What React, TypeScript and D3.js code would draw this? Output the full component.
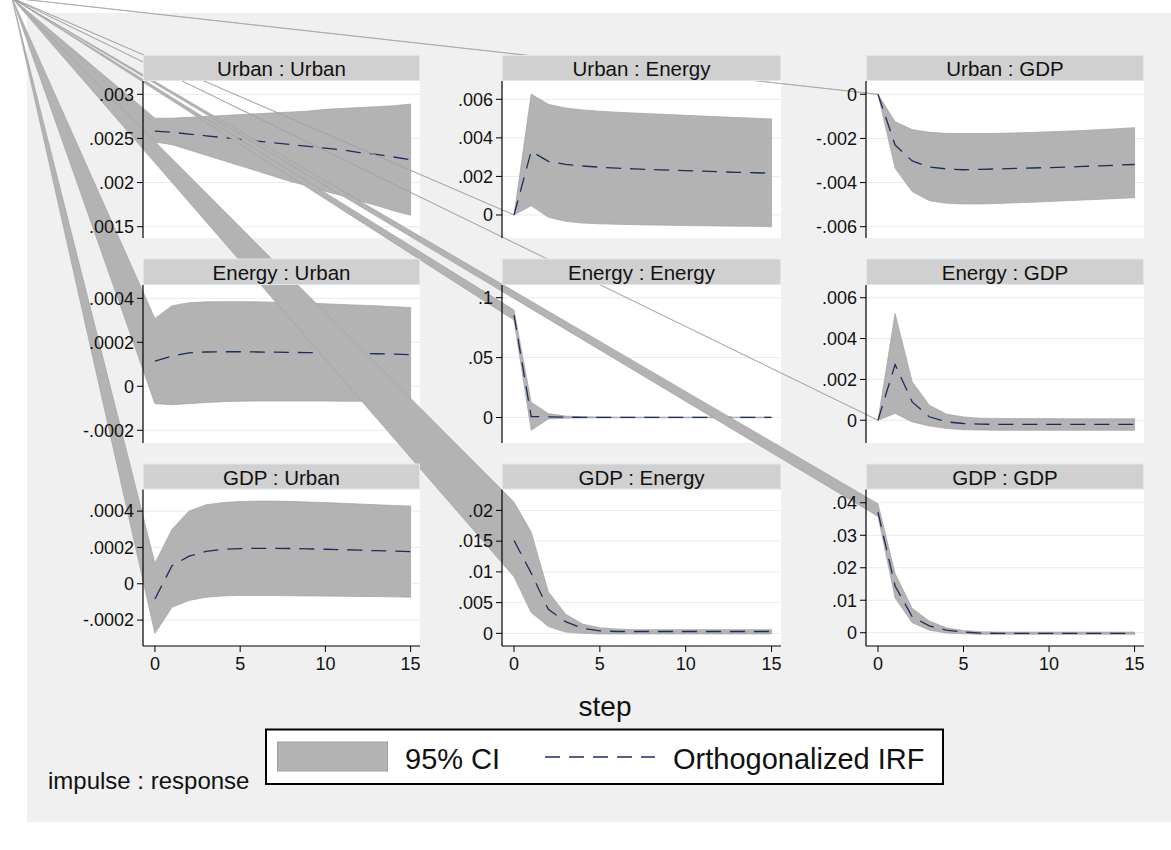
import React from "react";
import * as d3 from "d3";

const steps = [0, 1, 2, 3, 4, 5, 6, 7, 8, 9, 10, 11, 12, 13, 14, 15];
const xTicks = [0, 5, 10, 15];

// Panel titles (impulse : response), row by row
const panelTitles = [
  "Urban : Urban", "Urban : Energy", "Urban : GDP",
  "Energy : Urban", "Energy : Energy", "Energy : GDP",
  "GDP : Urban", "GDP : Energy", "GDP : GDP",
];

// y-axis value ranges per panel
const yDomains: [number, number][] = [
  [0.001372, 0.003151], [-0.001193, 0.006949], [-0.006512, 0.000603],
  [-0.0002579, 0.0004606], [-0.02124, 0.1106], [-0.001114, 0.006623],
  [-0.0003427, 0.000519], [-0.00206, 0.023406], [-0.00408, 0.04408],
];

const yTickValues = [
  [0.0015, 0.002, 0.0025, 0.003], [0, 0.002, 0.004, 0.006], [-0.006, -0.004, -0.002, 0],
  [-0.0002, 0, 0.0002, 0.0004], [0, 0.05, 0.1], [0, 0.002, 0.004, 0.006],
  [-0.0002, 0, 0.0002, 0.0004], [0, 0.005, 0.01, 0.015, 0.02], [0, 0.01, 0.02, 0.03, 0.04],
];
const yTickLabels = [
  [".0015", ".002", ".0025", ".003"], ["0", ".002", ".004", ".006"], ["-.006", "-.004", "-.002", "0"],
  ["-.0002", "0", ".0002", ".0004"], ["0", ".05", ".1"], ["0", ".002", ".004", ".006"],
  ["-.0002", "0", ".0002", ".0004"], ["0", ".005", ".01", ".015", ".02"], ["0", ".01", ".02", ".03", ".04"],
];

// Urban : Urban
const irfUrbanUrban = [.002584, .00257, .00255, .00253, .00251, .00249, .00247, .00245, .00243, .00241, .00239, .00237, .00234, .00232, .00229, .00226];
const hiUrbanUrban = [.00273, .00273, .00274, .00275, .00276, .00277, .00278, .00279, .0028, .00281, .00283, .00284, .00285, .00286, .00287, .00289];
const loUrbanUrban = [.00246, .00243, .00237, .00231, .00225, .00219, .00213, .00207, .00201, .00196, .0019, .00185, .00179, .00174, .00168, .00163];
// Urban : Energy
const irfUrbanEnergy = [0, .0033, .00278, .00262, .00254, .00248, .00243, .00239, .00236, .00233, .0023, .00227, .00224, .00221, .00219, .00217];
const hiUrbanEnergy = [0, .00627, .00574, .00555, .00545, .00538, .00533, .00529, .00525, .00521, .00517, .00513, .00509, .00505, .00502, .00498];
const loUrbanEnergy = [0, .00048, -.00012, -.00033, -.00042, -.00046, -.00048, -.0005, -.00052, -.00053, -.00055, -.00056, -.00057, -.00058, -.00059, -.00061];
// Urban : GDP
const irfUrbanGdp = [0, -.0023, -.00302, -.0033, -.00338, -.00342, -.0034, -.00338, -.00336, -.00334, -.00332, -.0033, -.00327, -.00324, -.00321, -.00318];
const hiUrbanGdp = [0, -.00124, -.0016, -.00172, -.00177, -.00178, -.00178, -.00177, -.00175, -.00173, -.0017, -.00167, -.00164, -.0016, -.00156, -.00151];
const loUrbanGdp = [0, -.00335, -.00441, -.00482, -.00494, -.00497, -.00497, -.00495, -.00492, -.00489, -.00486, -.00482, -.00479, -.00476, -.00472, -.00469];
// Energy : Urban
const irfEnergyUrban = [.000114, .000137, .000152, .000156, .000157, .000157, .000156, .000155, .000154, .000153, .000152, .000151, .00015, .000148, .000146, .000144];
const hiEnergyUrban = [.000308, .000366, .00038, .000384, .000385, .000385, .000384, .000382, .00038, .000378, .000375, .000372, .000369, .000366, .000362, .000358];
const loEnergyUrban = [-.000079, -.000084, -.000079, -.000074, -.00007, -.000068, -.000067, -.000067, -.000067, -.000067, -.000067, -.000068, -.000068, -.000068, -.000069, -.00007];
// Energy : Energy
const irfEnergyEnergy = [.0855, .0008, .0006, .0003, .0002, .0001, .0001, .0001, .0001, .0001, .0001, .0001, .0001, .0001, .0001, .0001];
const hiEnergyEnergy = [.0897, .0128, .0033, .0012, .0007, .0005, .0004, .0004, .0004, .0004, .0004, .0004, .0004, .0004, .0004, .0004];
const loEnergyEnergy = [.0814, -.0106, -.0012, -.0005, -.0003, -.0003, -.0002, -.0002, -.0002, -.0002, -.0002, -.0002, -.0002, -.0002, -.0002, -.0002];
// Energy : GDP
const irfEnergyGdp = [0, .00273, .0009, .00017, -.00008, -.00016, -.00019, -.0002, -.0002, -.0002, -.0002, -.0002, -.0002, -.0002, -.0002, -.0002];
const hiEnergyGdp = [0, .00523, .00188, .00074, .0003, .00016, .0001, .00009, .00008, .00008, .00008, .00007, .00007, .00007, .00007, .00007];
const loEnergyGdp = [0, .00033, -.00008, -.00028, -.0004, -.00046, -.00048, -.00049, -.00049, -.00049, -.00049, -.00049, -.00049, -.00049, -.00049, -.00049];
// GDP : Urban
const irfGdpUrban = [-.000084, .000099, .000152, .000178, .00019, .000194, .000195, .000195, .000194, .000192, .00019, .000188, .000185, .000182, .00018, .000177];
const hiGdpUrban = [.000113, .0003, .0004, .000435, .000447, .000453, .000455, .000455, .000453, .00045, .000447, .000443, .000439, .000435, .000431, .000428];
const loGdpUrban = [-.000274, -.00013, -.000092, -.000074, -.000067, -.000064, -.000064, -.000065, -.000066, -.000067, -.000068, -.000069, -.00007, -.000071, -.000072, -.000074];
// GDP : Energy
const irfGdpEnergy = [.0151, .0098, .0039, .0019, .0008, .0004, .0003, .0003, .0003, .0003, .0003, .0003, .0003, .0003, .0003, .0003];
const hiGdpEnergy = [.02135, .01648, .00675, .00313, .0015, .0009, .0007, .0006, .0006, .0006, .0006, .0006, .0006, .0006, .0006, .0006];
const loGdpEnergy = [.0092, .0034, .0011, .0002, 0, -.0001, -.0001, -.0001, -.0001, -.0001, -.0001, -.0001, -.0001, -.0001, -.0001, -.0001];
// GDP : GDP
const irfGdpGdp = [.0371, .0144, .0049, .0021, .0008, .0002, -.0001, -.0002, -.0002, -.0002, -.0002, -.0002, -.0002, -.0002, -.0002, -.0002];
const hiGdpGdp = [.0397, .0182, .0075, .0036, .0015, .0007, .0003, .0002, .0002, .0002, .0002, .0002, .0002, .0002, .0002, .0002];
const loGdpGdp = [.0358, .0107, .0031, .0008, -.0001, -.0003, -.0005, -.0005, -.0005, -.0005, -.0005, -.0005, -.0005, -.0005, -.0005, -.0005];

const irfSeries = [irfUrbanUrban, irfUrbanEnergy, irfUrbanGdp, irfEnergyUrban, irfEnergyEnergy, irfEnergyGdp, irfGdpUrban, irfGdpEnergy, irfGdpGdp];
const hiSeries = [hiUrbanUrban, hiUrbanEnergy, hiUrbanGdp, hiEnergyUrban, hiEnergyEnergy, hiEnergyGdp, hiGdpUrban, hiGdpEnergy, hiGdpGdp];
const loSeries = [loUrbanUrban, loUrbanEnergy, loUrbanGdp, loEnergyUrban, loEnergyEnergy, loEnergyGdp, loGdpUrban, loGdpEnergy, loGdpGdp];

const legendLabels = ["95% CI", "Orthogonalized IRF"];

// ---------- layout ----------
const W = 1171, H = 850;
const FONT = "'Liberation Sans', Arial, Helvetica, sans-serif";
const BAND = "#b3b3b3";
const BAND_EDGE = "#a2a2a2";
const NAVY = "#1a2d5e";
const cols = [{ x0: 143, x1: 420 }, { x0: 502, x1: 781 }, { x0: 866, x1: 1144 }];
const rows = [
  { hTop: 55, pTop: 81, pBot: 238 },
  { hTop: 258.5, pTop: 285, pBot: 443 },
  { hTop: 463.5, pTop: 489.5, pBot: 646 },
];
const ORIGIN: [number, number] = [12, -2];
const xDomain: [number, number] = [-0.7, 15.55];

export default function App() {
  const panels = panelTitles.map((title, i) => {
    const c = cols[i % 3];
    const r = rows[Math.floor(i / 3)];
    const x = d3.scaleLinear().domain(xDomain).range([c.x0, c.x1]);
    const y = d3.scaleLinear().domain(yDomains[i]).range([r.pBot, r.pTop]);
    return { i, title, c, r, x, y, bottom: Math.floor(i / 3) === 2 };
  });

  const lineGen = d3.line<[number, number]>().x((d) => d[0]).y((d) => d[1]);

  return (
    <svg width={W} height={H} style={{ position: "absolute", left: 0, top: 0, display: "block" }}
      fontFamily={FONT}>
      <rect x={0} y={0} width={W} height={H} fill="#ffffff" />
      <rect x={27} y={13} width={W - 27} height={809} fill="#f0f0f0" />

      {/* plot regions + grid */}
      {panels.map((p) => (
        <g key={"bg" + p.i}>
          <rect x={p.c.x0} y={p.r.pTop} width={p.c.x1 - p.c.x0} height={p.r.pBot - p.r.pTop} fill="#ffffff" />
          {yTickValues[p.i].map((t) => (
            <line key={t} x1={p.c.x0} x2={p.c.x1} y1={p.y(t)} y2={p.y(t)} stroke="#eaeaea" strokeWidth={1} />
          ))}
        </g>
      ))}

      {/* data: CI areas (with vertex at page origin) and IRF lines */}
      {panels.map((p) => {
        const hiPts: [number, number][] = steps.map((s, k) => [p.x(s), p.y(hiSeries[p.i][k])]);
        const loPts: [number, number][] = steps.map((s, k) => [p.x(s), p.y(loSeries[p.i][k])]).reverse() as [number, number][];
        const bandPath = lineGen([ORIGIN, ...hiPts, ...loPts]) + "Z";
        const irfPath = lineGen(steps.map((s, k) => [p.x(s), p.y(irfSeries[p.i][k])] as [number, number]));
        return (
          <g key={"d" + p.i}>
            <path d={bandPath} fill={BAND} stroke={BAND_EDGE} strokeWidth={0.7} strokeLinejoin="round" />
            <path d={irfPath || ""} fill="none" stroke={NAVY} strokeWidth={1.3} strokeDasharray="15 9" />
          </g>
        );
      })}

      {/* axes */}
      {panels.map((p) => (
        <g key={"ax" + p.i} fontSize={18} fill="#111">
          <line x1={p.c.x0} x2={p.c.x0} y1={p.r.pTop} y2={p.r.pBot} stroke="#000" strokeWidth={1.2} />
          {yTickValues[p.i].map((t, k) => (
            <g key={t}>
              <line x1={p.c.x0 - 6} x2={p.c.x0} y1={p.y(t)} y2={p.y(t)} stroke="#000" strokeWidth={1} />
              <text x={p.c.x0 - 9} y={p.y(t)} dy="0.35em" textAnchor="end">{yTickLabels[p.i][k]}</text>
            </g>
          ))}
          {p.bottom && (
            <g>
              <line x1={p.c.x0} x2={p.c.x1} y1={p.r.pBot} y2={p.r.pBot} stroke="#000" strokeWidth={1.2} />
              {xTicks.map((t) => (
                <g key={t}>
                  <line x1={p.x(t)} x2={p.x(t)} y1={p.r.pBot} y2={p.r.pBot + 6} stroke="#000" strokeWidth={1} />
                  <text x={p.x(t)} y={p.r.pBot + 24} textAnchor="middle">{t}</text>
                </g>
              ))}
            </g>
          )}
        </g>
      ))}

      {/* headers */}
      {panels.map((p) => (
        <g key={"h" + p.i}>
          <rect x={p.c.x0 + 0.5} y={p.r.hTop + 0.5} width={p.c.x1 - p.c.x0 - 1} height={p.r.pTop - p.r.hTop - 1}
            fill="#d0d0d0" stroke="#dbe7ef" strokeWidth={1} />
          <text x={(p.c.x0 + p.c.x1) / 2} y={p.r.hTop + 21} textAnchor="middle" fontSize={20.5} fill="#111">{p.title}</text>
        </g>
      ))}

      {/* x title */}
      <text x={605} y={716} textAnchor="middle" fontSize={28} fill="#111">step</text>

      {/* legend */}
      <rect x={266} y={729.5} width={677} height={54.5} fill="#ffffff" stroke="#000" strokeWidth={2} />
      <rect x={277.5} y={742} width={110} height={29} fill={BAND} stroke="#a0a0a0" strokeWidth={1} />
      <text x={405} y={769} fontSize={29} fill="#111">{legendLabels[0]}</text>
      <line x1={545} x2={655} y1={757} y2={757} stroke={NAVY} strokeWidth={1.6} strokeDasharray="15 9" />
      <text x={673} y={769} fontSize={29} fill="#111">{legendLabels[1]}</text>

      {/* note */}
      <text x={48} y={789} fontSize={24} fill="#111">impulse : response</text>
    </svg>
  );
}
